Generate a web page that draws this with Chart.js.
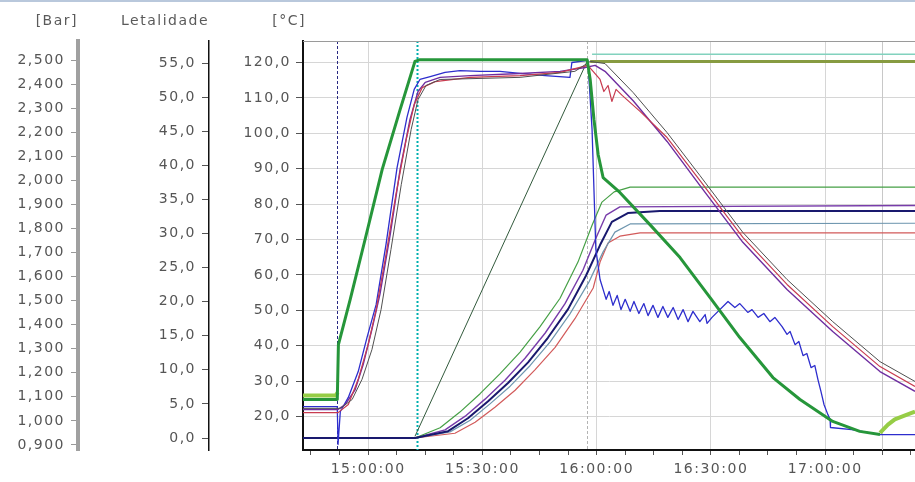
<!DOCTYPE html>
<html>
<head>
<meta charset="utf-8">
<script src="https://cdn.jsdelivr.net/npm/chart.js@4.4.0/dist/chart.umd.min.js"></script>
<style>
html, body { margin: 0; padding: 0; background: #fff; }
#wrap { width: 915px; height: 482px; position: relative; overflow: hidden; }
</style>
</head>
<body>
<div id="wrap"><canvas id="c" width="915" height="482"></canvas></div>
<script>
// times are minutes after midnight (900 = 15:00:00)
const xMin = 882.9, xMax = 1043.6;
const xTicks = [885, 892.5, 900, 907.5, 915, 922.5, 930, 937.5, 945, 952.5, 960, 967.5,
    975, 982.5, 990, 997.5, 1005, 1012.5, 1020, 1027.5, 1035, 1042.5];
const xLabelled = [900, 930, 960, 990, 1020];
const barTicks = [0.9, 1.0, 1.1, 1.2, 1.3, 1.4, 1.5, 1.6, 1.7, 1.8, 1.9, 2.0, 2.1, 2.2, 2.3, 2.4, 2.5];
const letTicks = [0, 5, 10, 15, 20, 25, 30, 35, 40, 45, 50, 55];
const tempTicks = [20, 30, 40, 50, 60, 70, 80, 90, 100, 110, 120];
const markerTimes = [891.9, 912.9, 957.5, 1035];

// temperatures [°C]
const heatGreen = [[882.9, 24.8], [891.9, 24.8], [892.2, 40.3], [895.3, 53.1], [899.2, 70.0], [903.7, 89.8],
    [908.4, 106.7], [912.3, 120.3], [913.6, 120.8], [957.5, 120.8], [958.3, 115.3], [959.3, 103.9], [960.4, 94.0],
    [961.7, 87.5], [966.1, 83.3], [974.0, 74.2], [981.9, 64.9], [989.8, 53.6], [997.6, 42.3], [1006.3, 31.0],
    [1013.4, 24.8], [1022.0, 18.6], [1029.1, 15.8], [1034.4, 14.9]];
const lime = [[882.9, 25.9], [891.5, 25.9], [892.0, 26.8], [892.3, null],
    [1034.4, 15.4], [1036.5, 17.7], [1038.3, 19.2], [1041.0, 20.3], [1043.6, 21.4]];
const olive = [[958.3, 120.3], [1043.6, 120.3]];
const aqua = [[958.8, 122.3], [1043.6, 122.3]];
const ramp = [[912.3, 14.4], [957.5, 120.3]];
const blue = [[882.9, 22.8], [891.9, 22.8], [892.1, 12.1], [892.7, 21.4], [894.8, 25.4], [897.4, 32.7],
    [899.7, 42.3], [902.1, 51.6], [904.7, 68.6], [907.6, 90.3], [910.2, 104.5], [912.1, 112.4], [913.6, 115.2],
    [916.3, 116.0], [920.2, 117.2], [924.1, 117.7], [929.4, 117.5], [934.6, 117.5], [939.9, 116.9], [946.5, 116.3],
    [953.0, 115.8], [953.5, 120.0], [957.7, 120.6], [958.8, 101.1], [959.8, 67.2], [960.9, 58.7],
    [961.7, 55.9], [962.5, 53.1], [963.3, 55.3], [964.3, 51.4], [965.4, 54.2], [966.4, 50.2], [967.5, 53.1],
    [968.8, 49.7], [969.8, 52.5], [971.1, 49.1], [972.4, 51.9], [973.5, 48.5], [974.8, 51.4], [976.1, 48.0],
    [977.4, 51.1], [978.7, 48.0], [980.1, 50.8], [981.4, 47.4], [982.7, 50.2], [984.0, 46.8], [985.3, 49.7],
    [987.1, 46.8], [988.5, 48.8], [989.0, 46.3], [990.3, 48.0], [994.5, 52.5], [996.3, 50.8], [997.6, 51.9],
    [999.7, 49.4], [1000.8, 50.2], [1002.4, 48.0], [1003.9, 49.1], [1005.5, 46.8], [1006.8, 48.0], [1008.7, 45.4],
    [1010.0, 43.2], [1010.8, 44.0], [1012.1, 40.3], [1013.1, 41.2], [1014.2, 37.2], [1015.2, 37.8], [1016.3, 33.8],
    [1017.3, 34.4], [1018.1, 30.5], [1018.9, 27.1], [1019.7, 23.4], [1020.7, 20.6], [1021.3, 19.2], [1021.4, 16.9],
    [1027.0, 16.3], [1034.4, 14.9], [1043.6, 14.9]];
const purple = [[882.9, 22.0], [892.1, 22.0], [894.0, 23.4], [896.6, 27.6], [898.7, 34.7], [901.0, 44.6],
    [903.1, 54.5], [905.8, 71.4], [908.4, 89.8], [911.0, 103.9], [913.1, 111.8], [915.0, 114.4], [918.9, 115.8],
    [926.8, 116.3], [939.9, 116.9], [950.4, 117.5], [957.0, 118.6], [959.6, 119.2], [962.2, 117.5], [969.6, 109.2],
    [978.5, 97.7], [987.1, 85.3], [998.4, 69.2], [1010.0, 55.9], [1022.0, 44.0], [1034.4, 32.7], [1043.6, 27.1]];
const red = [[882.9, 21.1], [892.1, 21.1], [894.8, 23.4], [897.4, 30.5], [900.0, 40.3], [902.1, 50.2],
    [904.7, 65.8], [907.3, 82.7], [910.0, 98.2], [912.1, 108.1], [914.2, 112.9], [917.6, 114.6], [926.8, 115.8],
    [939.9, 116.3], [950.4, 117.2], [957.7, 119.2], [960.9, 115.2], [961.9, 111.8], [963.0, 113.5], [964.0, 109.0],
    [965.1, 112.4], [966.7, 110.7], [971.4, 106.2], [978.5, 98.8], [987.1, 86.7], [998.4, 70.6], [1010.0, 57.3],
    [1022.0, 45.4], [1034.4, 34.1], [1043.6, 28.5]];
const grey = [[882.9, 22.3], [892.7, 22.3], [895.8, 24.8], [898.4, 30.5], [901.0, 38.9], [903.4, 50.2],
    [906.0, 67.2], [908.7, 85.5], [911.3, 101.1], [913.1, 109.5], [915.2, 113.5], [918.9, 115.2], [939.9, 115.8],
    [954.3, 117.5], [958.3, 120.3], [962.2, 119.7], [969.6, 111.5], [978.5, 100.2], [987.1, 88.1], [998.4, 72.0],
    [1010.0, 58.7], [1022.0, 46.8], [1034.4, 35.5], [1043.6, 29.9]];

// letalidade
const letGreen = [[882.9, 0], [912.3, 0], [918.9, 1.5], [924.1, 3.8], [929.4, 6.5], [934.6, 9.4], [939.9, 12.6],
    [945.1, 16.3], [950.4, 20.5], [955.1, 25.8], [958.8, 31.2], [961.4, 34.6], [964.6, 36.1], [968.8, 36.8],
    [1043.6, 36.8]];
const letPurple = [[882.9, 0], [912.3, 0], [920.2, 1.2], [925.5, 3.2], [930.7, 5.7], [936.0, 8.5], [941.2, 11.7],
    [946.5, 15.4], [951.7, 19.7], [956.4, 24.6], [959.8, 29.3], [962.5, 32.7], [966.1, 33.9], [1043.6, 34.1]];
const letNavy = [[882.9, 0], [912.3, 0], [921.0, 1.0], [926.2, 2.9], [931.5, 5.4], [936.8, 8.1], [942.0, 11.1],
    [947.2, 14.7], [952.5, 18.9], [957.2, 23.8], [960.9, 28.3], [964.0, 31.7], [968.2, 33.0], [976.6, 33.3],
    [1043.6, 33.3]];
const letTeal = [[882.9, 0], [912.3, 0], [921.5, 0.9], [926.8, 2.6], [932.0, 5.0], [937.3, 7.6], [942.5, 10.6],
    [947.8, 14.1], [953.0, 18.2], [958.0, 22.9], [961.7, 27.3], [964.8, 30.2], [968.8, 31.4], [1043.6, 31.5]];
const letRed = [[882.9, 0], [912.3, 0], [922.8, 0.7], [928.1, 2.3], [933.3, 4.5], [938.6, 7.0], [943.8, 10.0],
    [949.1, 13.3], [954.3, 17.5], [959.1, 22.0], [960.9, 25.8], [963.0, 28.6], [966.1, 29.6], [971.4, 30.1],
    [1043.6, 30.1]];

const pts = arr => arr.map(([x, y]) => ({x, y}));
const font = {family: 'DejaVu Sans', size: 14};

function hhmm(v) {
    const h = Math.floor(v / 60), m = Math.round(v - h * 60);
    return String(h).padStart(2, '0') + ':' + String(m).padStart(2, '0') + ':00';
}

function line(data, color, width, axis) {
    return {
        data: pts(data), borderColor: color, borderWidth: width, yAxisID: axis || 'yT',
        pointRadius: 0, tension: 0, fill: false, spanGaps: false, borderJoinStyle: 'round'
    };
}

const markerStyle = [
    ['rgb(40,40,130)', 1, [3, 2]],
    ['rgb(0,175,175)', 2, [2, 2]],
    ['rgb(180,180,180)', 1, [3, 2]],
    ['rgb(200,200,200)', 1, []]
];

const decor = {
    id: 'decor',
    beforeUpdate(chart) {
        chart.ctx.letterSpacing = '1.5px';
    },
    beforeDraw(chart) {
        const ctx = chart.ctx;
        ctx.letterSpacing = '1.5px';
        ctx.save();
        ctx.fillStyle = '#fff';
        ctx.fillRect(0, 0, chart.width, chart.height);
        ctx.fillStyle = '#b9c8dc';
        ctx.fillRect(0, 0, chart.width, 2);
        ctx.restore();
    },
    beforeDatasetsDraw(chart) {
        const {ctx, chartArea: a} = chart;
        const x = chart.scales.x;
        ctx.save();
        markerTimes.forEach((t, i) => {
            const px = Math.round(x.getPixelForValue(t)) + 0.5;
            ctx.strokeStyle = markerStyle[i][0];
            ctx.lineWidth = markerStyle[i][1];
            ctx.setLineDash(markerStyle[i][2]);
            ctx.beginPath();
            ctx.moveTo(px, a.top);
            ctx.lineTo(px, a.bottom);
            ctx.stroke();
        });
        ctx.restore();
    },
    afterDraw(chart) {
        const {ctx, chartArea: a} = chart;
        ctx.save();
        ctx.strokeStyle = '#9a9a9a';
        ctx.lineWidth = 1;
        ctx.beginPath();
        ctx.moveTo(a.left, a.top + 0.5);
        ctx.lineTo(a.right, a.top + 0.5);
        ctx.stroke();
        ctx.font = '14px "DejaVu Sans"';
        ctx.fillStyle = '#5a5a5a';
        ctx.textAlign = 'right';
        ctx.textBaseline = 'middle';
        [['yBar', '[Bar]', 0], ['yLet', 'Letalidade', 0], ['yT', '[°C]', 3]].forEach(([id, txt, dx]) => {
            ctx.fillText(txt, chart.scales[id].right + dx, 21);
        });
        ctx.restore();
    }
};

new Chart(document.getElementById('c'), {
    type: 'line',
    data: {
        datasets: [
            line(heatGreen, 'rgb(38,150,58)', 3),
            line(lime, 'rgb(150,205,70)', 4),
            line(grey, 'rgb(80,80,80)', 1),
            line(red, 'rgb(200,60,80)', 1.2),
            line(purple, 'rgb(110,45,160)', 1.4),
            line(blue, 'rgb(45,45,205)', 1.3),
            line(ramp, 'rgb(50,90,60)', 1),
            line(olive, 'rgb(135,155,65)', 3),
            line(aqua, 'rgb(130,210,190)', 1.5),
            line(letNavy, 'rgb(25,25,110)', 2, 'yLet'),
            line(letGreen, 'rgb(70,160,70)', 1.2, 'yLet'),
            line(letPurple, 'rgb(120,60,170)', 1.4, 'yLet'),
            line(letTeal, 'rgb(110,150,175)', 1.2, 'yLet'),
            line(letRed, 'rgb(210,90,90)', 1.2, 'yLet')
        ]
    },
    options: {
        responsive: false,
        animation: false,
        devicePixelRatio: 1,
        layout: {padding: {top: 41, left: 0, right: 0, bottom: 0}},
        plugins: {legend: {display: false}, tooltip: {enabled: false}},
        scales: {
            x: {
                type: 'linear', min: xMin, max: xMax,
                afterBuildTicks: s => { s.ticks = xTicks.map(v => ({value: v})); },
                ticks: {
                    autoSkip: false, maxRotation: 0, padding: 6, color: '#555', font,
                    callback: v => xLabelled.includes(v) ? hhmm(v) : ''
                },
                grid: {
                    color: c => c.tick && xLabelled.includes(c.tick.value) ? '#d6d6d6' : 'rgba(0,0,0,0)',
                    tickColor: '#555', tickLength: 5
                },
                border: {color: '#111', width: 2},
                afterFit: s => { s.height = 32; s.paddingLeft = 0; s.paddingRight = 0; }
            },
            yT: {
                position: 'left', weight: 1, min: 10.54, max: 126.07,
                afterBuildTicks: s => { s.ticks = tempTicks.map(v => ({value: v})); },
                ticks: {padding: 5, color: '#555', font, callback: v => v.toFixed(1).replace('.', ',')},
                grid: {color: '#d6d6d6', tickColor: '#555', tickLength: 7},
                border: {color: '#111', width: 2},
                afterFit: s => { s.width = 94; s.paddingTop = 0; s.paddingBottom = 0; }
            },
            yLet: {
                position: 'left', weight: 2, min: -1.76, max: 58.23,
                afterBuildTicks: s => { s.ticks = letTicks.map(v => ({value: v})); },
                ticks: {padding: 6, color: '#555', font, callback: v => v.toFixed(1).replace('.', ',')},
                grid: {drawOnChartArea: false, tickColor: '#555', tickLength: 7},
                border: {color: '#111', width: 1.5},
                afterFit: s => { s.width = 131; s.paddingTop = 0; s.paddingBottom = 0; }
            },
            yBar: {
                position: 'left', weight: 3, min: 0.879, max: 2.579,
                afterBuildTicks: s => { s.ticks = barTicks.map(v => ({value: v})); },
                ticks: {padding: 6, color: '#555', font, callback: v => v.toFixed(3).replace('.', ',')},
                grid: {drawOnChartArea: false, tickColor: '#999', tickLength: 7},
                border: {color: '#a0a0a0', width: 4},
                afterFit: s => { s.width = 78; s.paddingTop = 0; s.paddingBottom = 0; }
            }
        }
    },
    plugins: [decor]
});
</script>
</body>
</html>
